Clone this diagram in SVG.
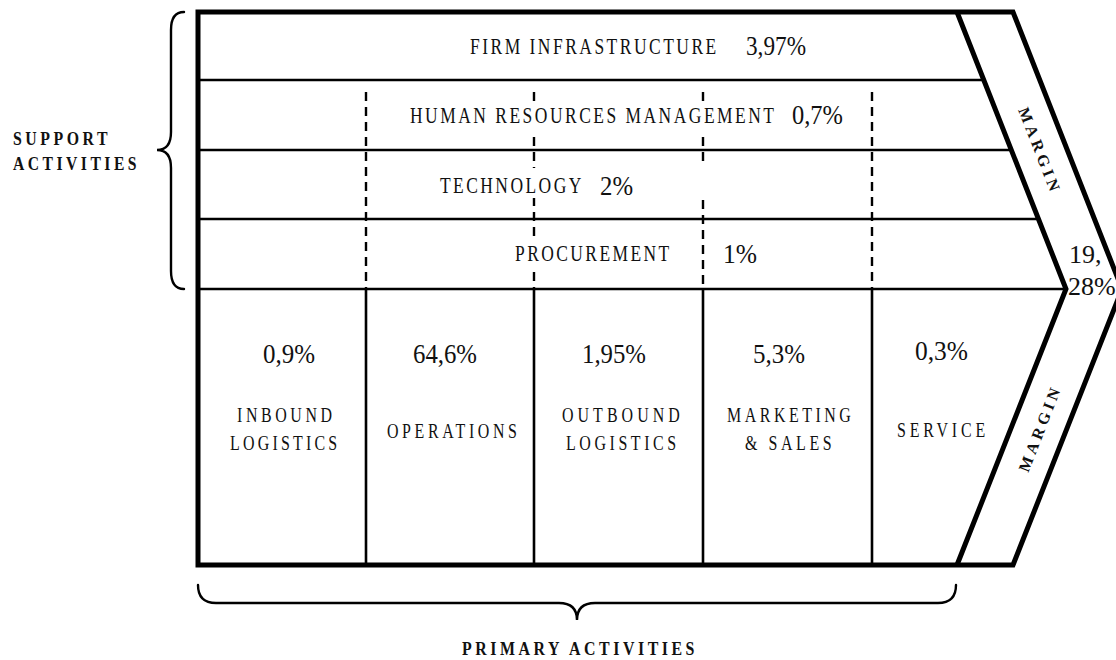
<svg xmlns="http://www.w3.org/2000/svg" width="1116" height="660" viewBox="0 0 1116 660">
  <style>
    .frame { fill: none; stroke: #000; stroke-width: 5; stroke-linejoin: miter; }
    .div { fill: none; stroke: #000; stroke-width: 2.6; }
    .dash { fill: none; stroke: #000; stroke-width: 2.4; stroke-dasharray: 9 6; }
    .brace { fill: none; stroke: #000; stroke-width: 2.4; stroke-linecap: round; }
    .knock { fill: #fff; }
    .cap { font-family: "Liberation Serif", "Times New Roman", serif; font-size: 23px; fill: #111; }
    .pcap { font-family: "Liberation Serif", "Times New Roman", serif; font-size: 21px; fill: #111; }
    .pct { font-family: "Liberation Serif", "Times New Roman", serif; font-size: 27px; fill: #111; }
    .tip { font-family: "Liberation Serif", "Times New Roman", serif; font-size: 26px; fill: #111; }
    .side { font-family: "Liberation Serif", "Times New Roman", serif; font-size: 18px; font-weight: bold; letter-spacing: 4px; fill: #111; }
    .margin { font-family: "Liberation Serif", "Times New Roman", serif; font-size: 16px; font-weight: bold; letter-spacing: 4px; fill: #111; }
  </style>

  <rect width="1116" height="660" fill="#fff"/>

  <!-- value chain outline: outer chevron and inner margin band -->
  <g id="frame">
    <path class="frame" d="M198,12 L1013,12 L1122,289 L1013,565 L198,565 Z"/>
    <path class="frame" d="M957,12 L1066,289 L957,565"/>
  </g>

  <!-- row and column dividers -->
  <g id="connectors">
    <line class="div" x1="198" y1="80" x2="984" y2="80"/>
    <line class="div" x1="198" y1="150" x2="1011" y2="150"/>
    <line class="div" x1="198" y1="219" x2="1038" y2="219"/>
    <line class="div" x1="198" y1="289" x2="1066" y2="289"/>

    <line class="div" x1="366" y1="289" x2="366" y2="565"/>
    <line class="div" x1="534" y1="289" x2="534" y2="565"/>
    <line class="div" x1="703" y1="289" x2="703" y2="565"/>
    <line class="div" x1="872" y1="289" x2="872" y2="565"/>

    <line class="dash" x1="366" y1="92" x2="366" y2="289"/>
    <line class="dash" x1="534" y1="92" x2="534" y2="289"/>
    <line class="dash" x1="703" y1="92" x2="703" y2="166"/>
    <line class="dash" x1="703" y1="200" x2="703" y2="289"/>
    <line class="dash" x1="872" y1="92" x2="872" y2="289"/>

    <!-- grouping braces -->
    <path class="brace" d="M184,12 Q171,12 171,30 L171,132 Q171,150 157,150 Q171,150 171,168 L171,271 Q171,289 184,289"/>
    <path class="brace" d="M198,585 Q198,603 216,603 L559,603 Q577,603 577,620 Q577,603 595,603 L938,603 Q956,603 956,585"/>
  </g>

  <!-- support activities (labels sit on a white band over the dashed guides) -->
  <g id="firm-infrastructure">
    <text class="cap" transform="translate(470,54) scale(0.76,1)" textLength="324" lengthAdjust="spacing">FIRM INFRASTRUCTURE</text>
    <text class="pct" x="746" y="55" textLength="60" lengthAdjust="spacingAndGlyphs">3,97%</text>
  </g>
  <g id="human-resources">
    <rect class="knock" x="406" y="101" width="374" height="30"/>
    <text class="cap" transform="translate(410,123) scale(0.76,1)" textLength="479" lengthAdjust="spacing">HUMAN RESOURCES MANAGEMENT</text>
    <text class="pct" x="792" y="124" textLength="51" lengthAdjust="spacingAndGlyphs">0,7%</text>
  </g>
  <g id="technology">
    <rect class="knock" x="436" y="168" width="150" height="30"/>
    <text class="cap" transform="translate(440,193) scale(0.76,1)" textLength="186" lengthAdjust="spacing">TECHNOLOGY</text>
    <text class="pct" x="600" y="195" textLength="33" lengthAdjust="spacingAndGlyphs">2%</text>
  </g>
  <g id="procurement">
    <rect class="knock" x="511" y="238" width="163" height="29"/>
    <text class="cap" transform="translate(515,261) scale(0.76,1)" textLength="203" lengthAdjust="spacing">PROCUREMENT</text>
    <text class="pct" x="723" y="263" textLength="34" lengthAdjust="spacingAndGlyphs">1%</text>
  </g>

  <!-- primary activities -->
  <g id="inbound-logistics">
    <text class="pct" x="263" y="363" textLength="52" lengthAdjust="spacingAndGlyphs">0,9%</text>
    <text class="pcap" transform="translate(237,422) scale(0.76,1)" textLength="125" lengthAdjust="spacing">INBOUND</text>
    <text class="pcap" transform="translate(230,450) scale(0.76,1)" textLength="141" lengthAdjust="spacing">LOGISTICS</text>
  </g>
  <g id="operations">
    <text class="pct" x="413" y="363" textLength="64" lengthAdjust="spacingAndGlyphs">64,6%</text>
    <text class="pcap" transform="translate(387,438) scale(0.76,1)" textLength="171" lengthAdjust="spacing">OPERATIONS</text>
  </g>
  <g id="outbound-logistics">
    <text class="pct" x="582" y="363" textLength="64" lengthAdjust="spacingAndGlyphs">1,95%</text>
    <text class="pcap" transform="translate(562,422) scale(0.76,1)" textLength="155" lengthAdjust="spacing">OUTBOUND</text>
    <text class="pcap" transform="translate(566,450) scale(0.76,1)" textLength="145" lengthAdjust="spacing">LOGISTICS</text>
  </g>
  <g id="marketing-sales">
    <text class="pct" x="753" y="363" textLength="52" lengthAdjust="spacingAndGlyphs">5,3%</text>
    <text class="pcap" transform="translate(727,422) scale(0.76,1)" textLength="163" lengthAdjust="spacing">MARKETING</text>
    <text class="pcap" transform="translate(745,450) scale(0.76,1)" textLength="114" lengthAdjust="spacing">&amp; SALES</text>
  </g>
  <g id="service">
    <text class="pct" x="915" y="360" textLength="53" lengthAdjust="spacingAndGlyphs">0,3%</text>
    <text class="pcap" transform="translate(897,437) scale(0.76,1)" textLength="116" lengthAdjust="spacing">SERVICE</text>
  </g>

  <!-- margin band -->
  <g id="margin">
    <text class="margin" text-anchor="middle" dominant-baseline="central" transform="translate(1040,151) rotate(68.5)">MARGIN</text>
    <text class="margin" text-anchor="middle" dominant-baseline="central" transform="translate(1040,428) rotate(-68.5)">MARGIN</text>
    <text class="tip" x="1069" y="263">19,</text>
    <text class="tip" x="1068" y="295">28%</text>
  </g>

  <!-- group labels -->
  <g id="support-activities">
    <text class="side" x="13" y="145" textLength="98" lengthAdjust="spacingAndGlyphs">SUPPORT</text>
    <text class="side" x="13" y="170" textLength="127" lengthAdjust="spacingAndGlyphs">ACTIVITIES</text>
  </g>
  <g id="primary-activities">
    <text class="side" x="462" y="655" textLength="236" lengthAdjust="spacingAndGlyphs">PRIMARY ACTIVITIES</text>
  </g>
</svg>
